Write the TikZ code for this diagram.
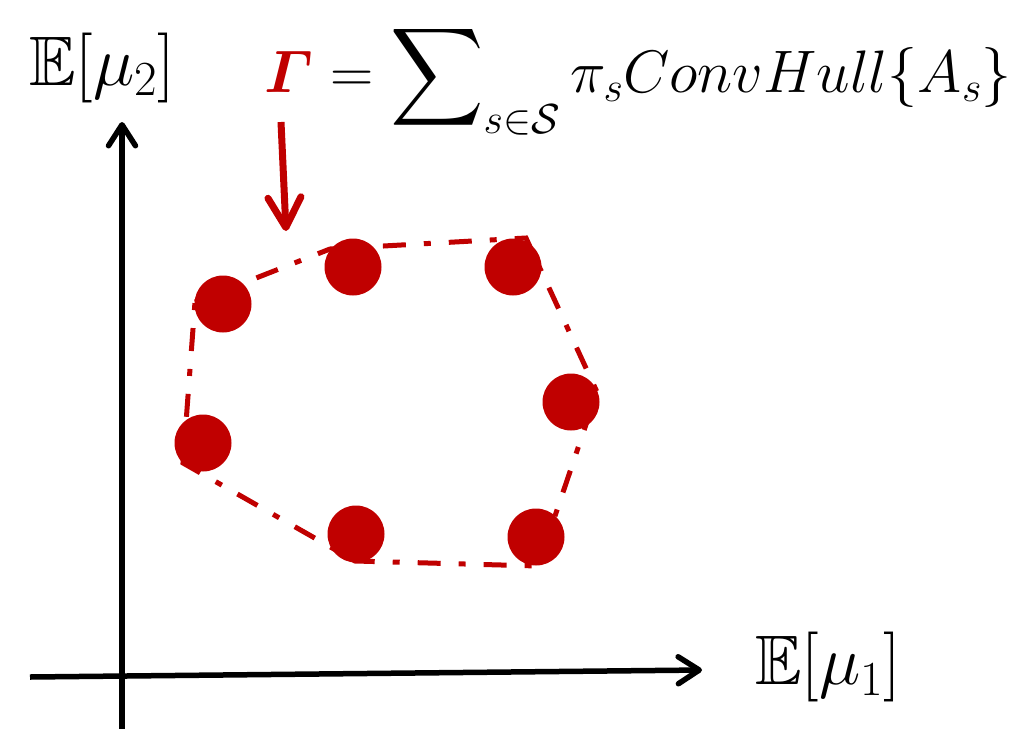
\documentclass[tikz,border=0pt]{standalone}
\usepackage{fix-cm}
\usepackage{amsmath,amssymb,graphicx}
\usetikzlibrary{arrows.meta}
\definecolor{pptred}{HTML}{C00000}
\tikzset{
  axis/.style={line width=5.5pt,-{Straight Barb[length=21pt,width=27pt,round,line width=5.5pt]}},
  redarrow/.style={pptred,line width=7pt,-{Straight Barb[length=30pt,width=33pt,round,line width=7pt]}},
  hull/.style={pptred,line width=5pt,dash pattern=on 23pt off 18pt on 7pt off 18pt},
  dot/.style={circle,fill=pptred,minimum size=57pt,inner sep=0pt},
  lbl/.style={inner sep=0pt,font=\fontsize{70}{80}\selectfont},
  flbl/.style={inner sep=0pt,font=\fontsize{60}{70}\selectfont},
}
\newcommand{\bigsum}{\mathop{\vcenter{\hbox{\scalebox{1.08}[1.14]{$\displaystyle\sum$}}}}\nolimits}
\begin{document}
\begin{tikzpicture}[x=1pt,y=-1pt]
\useasboundingbox (0,0) rectangle (1035,728);
% axes
\coordinate (yb) at (122,735);
\coordinate (yt) at (122,122);
\coordinate (xl) at (30,677);
\coordinate (xr) at (702,670);
\draw[axis] (yb) -- (yt);
\draw[axis] (xl) -- (xr);
\node[lbl] (mu2) at (102,68) {$\mathbb{E}[\mu_2]$};
\node[lbl] (mu1) at (828,667) {$\mathbb{E}[\mu_1]$};
% formula
\node[flbl,anchor=base west] (gam) at (264,92) {$\color{pptred}\boldsymbol{\varGamma}$};
\node[flbl,anchor=base west] (form) at (gam.base east) {$\;=\bigsum_{s\in\mathcal{S}}\pi_s ConvHull\{A_s\}$};
% red arrow
\coordinate (ra) at (281,122);
\coordinate (rb) at (286,231);
\draw[redarrow] (ra) -- (rb);
% hull polygon
\coordinate (v1) at (195,302);
\coordinate (v2) at (330,249);
\coordinate (v3) at (526,238);
\coordinate (v4) at (597,392);
\coordinate (v5) at (538,566);
\coordinate (v6) at (355,561);
\coordinate (v7) at (183,463);
\draw[hull] (v1) -- (v2) -- (v3) -- (v4) -- (v5) -- (v6) -- (v7) -- cycle;
% points
\node[dot] (p1) at (223,304) {};
\node[dot] (p2) at (353,267) {};
\node[dot] (p3) at (513,267) {};
\node[dot] (p4) at (571,402) {};
\node[dot] (p5) at (536,537) {};
\node[dot] (p6) at (356,534) {};
\node[dot] (p7) at (203,443) {};
\end{tikzpicture}
\end{document}
